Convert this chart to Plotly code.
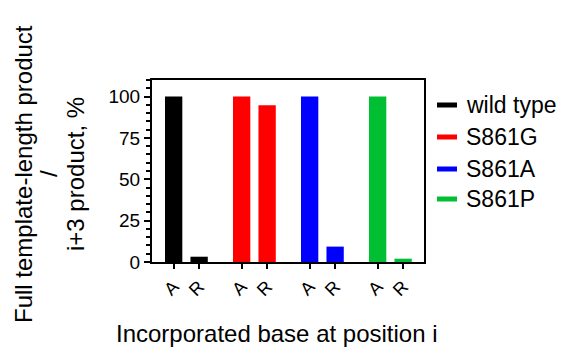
import plotly.graph_objects as go

variants = ["wild type", "S861G", "S861A", "S861P"]
bases = ["A", "R"]
values_A = [100, 100, 100, 100]
values_R = [3.2, 94.7, 9.3, 2.0]
colors = ["#000000", "#FF0000", "#0000FF", "#00BF33"]
y_ticks = [0, 25, 50, 75, 100]
y_title_lines = ["Full template-length product", "/", "i+3 product, %"]
x_title = "Incorporated base at position i"

W, H = 564, 351
L, R, T, B = 152, 140, 80, 89
PW, PH = W - L - R, H - T - B
GROUP_STEP = 2.67
BAR_W = 0.68
FONT = "Arial, Liberation Sans, sans-serif"


def px(xp):
    return (xp - L) / PW


def py(yp):
    return (H - B - yp) / PH


fig = go.Figure()
tickvals, ticktext = [], []
for g, (name, a, r, c) in enumerate(zip(variants, values_A, values_R, colors)):
    xs = [g * GROUP_STEP + i for i in range(len(bases))]
    tickvals += xs
    ticktext += bases
    fig.add_trace(go.Bar(x=xs, y=[a, r], width=BAR_W, marker=dict(color=c, line=dict(width=0)),
                         name=name, showlegend=False))

shapes, annotations = [], []
# legend (drawn manually to match the short line swatches)
leg_y = [105, 137, 169, 199]
for name, c, yy in zip(variants, colors, leg_y):
    shapes.append(dict(type="line", xref="paper", yref="paper", x0=px(437), x1=px(457),
                       y0=py(yy), y1=py(yy), line=dict(color=c, width=5)))
    annotations.append(dict(text=name, xref="paper", yref="paper", x=px(464), y=py(yy),
                            xanchor="left", yanchor="middle", showarrow=False,
                            font=dict(size=23)))
# y axis title lines
for line, xx in zip(y_title_lines, [23, 48, 75]):
    annotations.append(dict(text=line, xref="paper", yref="paper", x=px(xx), y=py(174),
                            textangle=-90, showarrow=False, font=dict(size=24),
                            xanchor="center", yanchor="middle"))
annotations.append(dict(text=x_title, xref="paper", yref="paper", x=px(277), y=py(333),
                        showarrow=False, font=dict(size=24), xanchor="center", yanchor="middle"))

fig.update_layout(
    width=W, height=H,
    margin=dict(l=L, r=R, t=T, b=B, autoexpand=False),
    plot_bgcolor="white", paper_bgcolor="white",
    font=dict(family=FONT, color="black"),
    showlegend=False,
    shapes=shapes, annotations=annotations,
)
fig.update_xaxes(range=[-0.85, 9.83], tickvals=tickvals, ticktext=ticktext, tickangle=-45,
                 ticks="outside", ticklen=5, tickwidth=2, tickcolor="black",
                 showline=True, linewidth=2, linecolor="black", mirror=True,
                 showgrid=False, zeroline=False, tickfont=dict(size=18), automargin=False)
fig.update_yaxes(range=[0, 110], tickvals=y_ticks, ticks="outside", ticklen=6, tickwidth=2,
                 tickcolor="black", showline=True, linewidth=2, linecolor="black", mirror=True,
                 showgrid=False, zeroline=False, tickfont=dict(size=19), automargin=False,
                 minor=dict(dtick=5, tick0=0, ticks="outside", ticklen=4, tickwidth=2,
                            tickcolor="black"))

fig.write_html("out.html", config={"displayModeBar": False},
               post_script="document.body.style.margin='0';document.body.style.overflow='hidden';")
